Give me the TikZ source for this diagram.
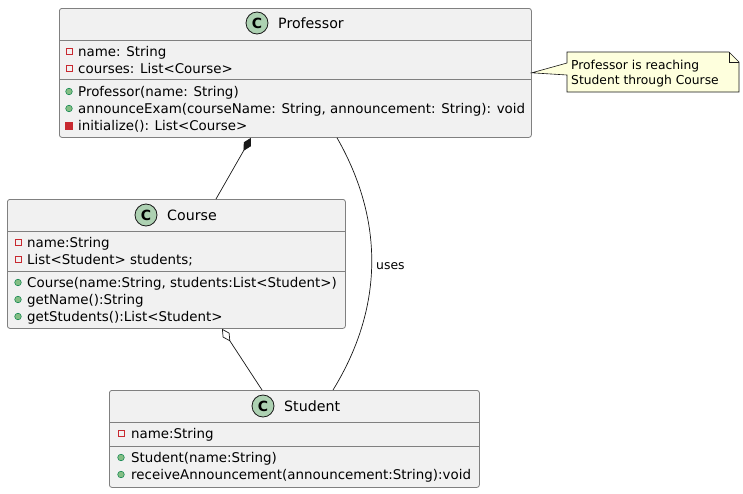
\documentclass[tikz,border=0pt]{standalone}
\usepackage{fontspec}
\setmainfont{DejaVu Sans}
\usetikzlibrary{arrows.meta,calc}
\definecolor{boxfill}{HTML}{F1F1F1}
\definecolor{boxline}{HTML}{808080}
\definecolor{cfill}{HTML}{ADD1B2}
\definecolor{privred}{HTML}{C82930}
\definecolor{pubgreen}{HTML}{84BE84}
\definecolor{publine}{HTML}{038048}
\definecolor{notefill}{HTML}{FEFFDD}
\definecolor{ink}{HTML}{181818}
\begin{document}
\begin{tikzpicture}[x=1pt,y=-1pt,
  classbox/.style={draw=boxline,fill=boxfill,line width=0.8pt,rounded corners=2.5pt,inner sep=0pt,anchor=north west},
  sep/.style={draw=boxline,line width=0.8pt},
  mem/.style={anchor=base west,inner sep=0pt,font=\fontsize{13.4}{15}\selectfont,text=black},
  title/.style={anchor=base west,inner sep=0pt,font=\fontsize{14.2}{16}\selectfont,text=black},
  cicon/.style={circle,draw=ink,fill=cfill,line width=0.8pt,minimum size=22pt,inner sep=0pt,font=\fontsize{14}{15}\selectfont\bfseries},
  privA/.pic={\draw[privred,line width=0.8pt] (-3,-3) rectangle (3,3);},
  privM/.pic={\draw[privred,fill=privred,line width=0.6pt] (-3.3,-3.3) rectangle (3.3,3.3);},
  pubM/.pic={\draw[publine,fill=pubgreen,line width=0.5pt] (0,0) circle (3.3);},
  conn/.style={draw=ink,line width=0.7pt},
  notetext/.style={anchor=base west,inner sep=0pt,font=\fontsize{12.3}{14}\selectfont,text=black}
]
\useasboundingbox (0,0) rectangle (743,493);
\fill[white] (0,0) rectangle (743,493);

% ---------- Professor ----------
\node[classbox,minimum width=472pt,minimum height=129pt] (prof) at (59,8) {};
\draw[sep] (59,40) -- (531,40);
\draw[sep] (59,79) -- (531,79);
\node[cicon] (profc) at (257,23) {C};
\node[title] (proft) at (278,28) {Professor};
\pic at (69,51.5) {privA};
\node[mem] (pa1) at (78,56) {name: String};
\pic at (69,68.5) {privA};
\node[mem] (pa2) at (78,73) {courses: List<Course>};
\pic at (69,91.5) {pubM};
\node[mem] (pm1) at (78,96) {Professor(name: String)};
\pic at (69,108.5) {pubM};
\node[mem] (pm2) at (78,113) {announceExam(courseName: String, announcement: String): void};
\pic at (69,125.5) {privM};
\node[mem] (pm3) at (78,130) {initialize(): List<Course>};

% ---------- Course ----------
\node[classbox,minimum width=338pt,minimum height=129pt] (course) at (7,199) {};
\draw[sep] (7,231) -- (345,231);
\draw[sep] (7,271) -- (345,271);
\node[cicon] (coursec) at (146,215) {C};
\node[title] (courset) at (167,220) {Course};
\pic at (18,242.5) {privA};
\node[mem] (ca1) at (27,247) {name:String};
\pic at (18,259.5) {privA};
\node[mem] (ca2) at (27,264) {List<Student> students;};
\pic at (18,282.5) {pubM};
\node[mem] (cm1) at (27,287) {Course(name:String, students:List<Student>)};
\pic at (18,299.5) {pubM};
\node[mem] (cm2) at (27,304) {getName():String};
\pic at (18,316.5) {pubM};
\node[mem] (cm3) at (27,321) {getStudents():List<Student>};

% ---------- Student ----------
\node[classbox,minimum width=370pt,minimum height=97pt] (student) at (109,390) {};
\draw[sep] (109,422) -- (479,422);
\draw[sep] (109,446) -- (479,446);
\node[cicon] (studentc) at (263,406) {C};
\node[title] (studentt) at (284,411) {Student};
\pic at (121,433.5) {privA};
\node[mem] (sa1) at (131,438) {name:String};
\pic at (121,457.5) {pubM};
\node[mem] (sm1) at (131,462) {Student(name:String)};
\pic at (121,474.5) {pubM};
\node[mem] (sm2) at (131,479) {receiveAnnouncement(announcement:String):void};

% ---------- Note ----------
\coordinate (notetip) at ($(prof.south east)+(0,-65)$);
\filldraw[draw=ink,fill=notefill,line width=0.6pt]
  (567,52) -- (729,52) -- (739,62) -- (739,92) -- (567,92) -- (567,75) -- (notetip) -- (567,63) -- cycle;
\draw[ink,line width=0.6pt] (729,52) -- (729,62) -- (739,62);
\node[notetext] (note1) at (571,69) {Professor is reaching};
\node[notetext] (note2) at (571,84) {Student through Course};

% ---------- Connectors ----------
\coordinate (compP) at ($(prof.south west)+(192,0)$);
\coordinate (compC) at ($(course.north west)+(209,0)$);
\draw[conn,-{Diamond[length=15pt,width=8pt,fill=ink]}] (compC) -- (compP);

\coordinate (aggC) at ($(course.south west)+(215,0)$);
\coordinate (aggS) at ($(student.north west)+(153,0)$);
\draw[conn,-{Diamond[length=15pt,width=8pt,open,fill=white]}] (aggS) -- (aggC);

\coordinate (useP) at ($(prof.south west)+(278,0)$);
\coordinate (useS) at ($(student.north west)+(224,0)$);
\draw[conn] (useP) .. controls (384,220) and (384,307) .. (useS);
\node[anchor=base west,inner sep=0pt,font=\fontsize{12.4}{14}\selectfont] (uses) at (376,269) {uses};
\end{tikzpicture}
\end{document}
